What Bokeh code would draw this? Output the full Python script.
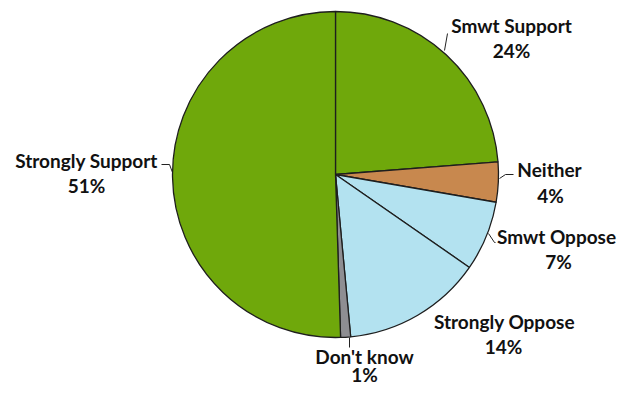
from bokeh.plotting import figure
from bokeh.models import Range1d, ColumnDataSource
from bokeh.core.properties import value
from bokeh.embed import file_html
from bokeh.resources import INLINE
import numpy as np

# ---- data ----
categories = ["Smwt Support", "Neither", "Smwt Oppose", "Strongly Oppose", "Don't know", "Strongly Support"]
shares = [24, 4, 7, 14, 1, 51]
colors = ["#6FA80B", "#C8884E", "#B3E2F0", "#B3E2F0", "#8E8E92", "#6FA80B"]

# ---- layout (pixel positions of label anchors, leader lines) ----
name_pos = [(511, 25), (549, 169), (556, 236), (504, 321), (364, 356), (86, 160)]
pct_pos = [(511, 50), (550, 195), (558, 261), (503, 346), (364, 374), (86, 185)]
leaders = [
    [(444, 50), (447, 33)],
    [(499, 178), (505, 174), (513, 174)],
    [(488, 233), (494, 242), (495, 242)],
    None,
    [(349, 337), (349, 347)],
    [(172, 172), (169, 164), (161, 164)],
]
CX, CY, R = 335, 174, 163

W, H = 617, 386
p = figure(width=W, height=H, output_backend="svg", toolbar_location=None,
           x_range=Range1d(0, W), y_range=Range1d(-H, 0),
           min_border=0)
p.axis.visible = False
p.grid.visible = False
p.outline_line_color = None
p.background_fill_color = "white"

vals = np.array(shares, dtype=float)
frac = vals / vals.sum()
cum = np.concatenate([[0.0], np.cumsum(frac)])
start = np.pi / 2 - cum[:-1] * 2 * np.pi
end = np.pi / 2 - cum[1:] * 2 * np.pi

src = ColumnDataSource(dict(start=start, end=end, color=colors, cat=categories))
p.wedge(x=CX, y=-CY, radius=R, start_angle="start", end_angle="end",
        direction="clock", fill_color="color", line_color="#1E1E1E",
        line_width=1.3, source=src)

# leader lines
xs, ys = [], []
for ld in leaders:
    if ld is None:
        continue
    xs.append([pt[0] for pt in ld])
    ys.append([-pt[1] for pt in ld])
p.multi_line(xs=xs, ys=ys, line_color="#222222", line_width=1)

font = value("Lato")
pct_labels = [f"{v}%" for v in shares]
p.text(x=[q[0] for q in name_pos], y=[-q[1] for q in name_pos], text=categories,
       text_font=font, text_font_style="bold", text_font_size="19px",
       text_align="center", text_baseline="alphabetic", text_color="#111111")
p.text(x=[q[0] for q in pct_pos], y=[-q[1] for q in pct_pos], text=pct_labels,
       text_font=font, text_font_style="bold", text_font_size="19px",
       text_align="center", text_baseline="alphabetic", text_color="#111111")

open("out.html", "w").write(file_html(p, INLINE))
